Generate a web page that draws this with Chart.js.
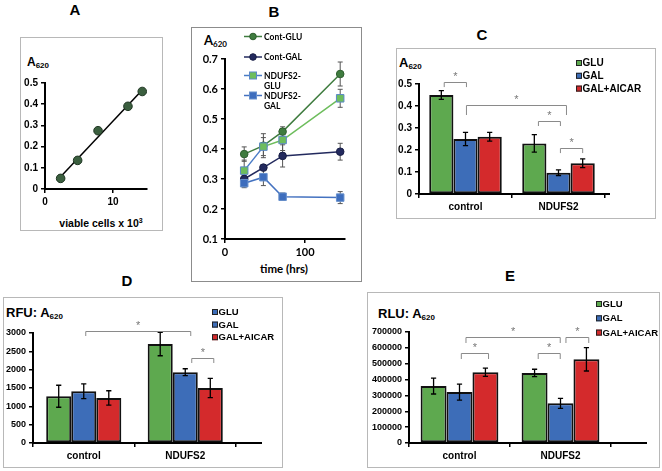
<!DOCTYPE html>
<html><head><meta charset="utf-8">
<script src="https://cdn.jsdelivr.net/npm/chart.js@4.4.1/dist/chart.umd.min.js"></script>
<style>
body{margin:0;background:#fff;}
#root{position:relative;width:662px;height:471px;overflow:hidden;font-family:"Liberation Sans",Arial,sans-serif;background:#fff;}
.box{position:absolute;border:1px solid #b8b8b8;box-sizing:border-box;}
canvas{position:absolute;}
.t{position:absolute;white-space:nowrap;font-weight:bold;color:#000;line-height:1;}
.ttl{font-size:15px;transform:translate(-50%,-50%);}
.lab{font-size:13px;transform:translateY(-50%);}
.lab sub{font-size:8px;vertical-align:-2px;}
.cal{font-family:Lato,"Liberation Sans",sans-serif;}
</style></head>
<body>
<div id="root">
  <div class="box" style="left:20px;top:37px;width:143px;height:194px;"></div>
  <div class="box" style="left:191px;top:27px;width:171px;height:255px;border-color:#8c8c8c"></div>
  <div class="box" style="left:396px;top:48px;width:260px;height:171px;"></div>
  <div class="box" style="left:3px;top:297px;width:280px;height:171px;"></div>
  <div class="box" style="left:367px;top:292px;width:293px;height:176px;"></div>

  <div class="t ttl" style="left:75px;top:9px;">A</div>
  <div class="t ttl" style="left:274px;top:11px;">B</div>
  <div class="t ttl" style="left:482px;top:34px;">C</div>
  <div class="t ttl" style="left:127px;top:280px;">D</div>
  <div class="t ttl" style="left:510px;top:275px;">E</div>

  <div class="t lab" style="left:27px;top:63px;font-size:12px;">A<sub>620</sub></div>
  <div class="t" style="left:101px;top:223px;font-size:10.5px;transform:translate(-50%,-50%);">viable cells x 10<sup style="font-size:7px;vertical-align:4px;line-height:0">3</sup></div>
  <div class="t lab cal" style="left:204px;top:41px;font-size:13px;">A<sub>620</sub></div>
  <div class="t cal" style="left:284px;top:269px;font-size:11.5px;transform:translate(-50%,-50%);">time (hrs)</div>
  <div class="t lab" style="left:399px;top:63px;">A<sub>620</sub></div>
  <div class="t lab" style="left:6px;top:313px;">RFU: A<sub>620</sub></div>
  <div class="t lab" style="left:378px;top:314px;">RLU: A<sub>620</sub></div>
</div>
<script>
// ---------- Panel A: standard curve ----------
const aCells = [2.3, 4.8, 7.8, 12.2, 14.3];
const aAbs = [0.05, 0.135, 0.275, 0.39, 0.46];
const aXTicks = [0, 10];

// ---------- Panel B: growth over time ----------
const bHours = [24, 48, 72, 144];
const bContGlu = [0.383, 0.411, 0.458, 0.65];
const bContGluErr = [0.024, 0.04, 0.016, 0.04];
const bContGal = [0.30, 0.338, 0.377, 0.391];
const bContGalErr = [0.012, 0.01, 0.037, 0.028];
const bNdGlu = [0.328, 0.408, 0.43, 0.569];
const bNdGluErr = [0.035, 0.03, 0.035, 0.03];
const bNdGal = [0.286, 0.306, 0.241, 0.238];
const bNdGalErr = [0.015, 0.028, 0.012, 0.02];
const bNames = [['Cont-GLU'], ['Cont-GAL'], ['NDUFS2-', 'GLU'], ['NDUFS2-', 'GAL']];
const bXTicks = [0, 100];

// ---------- Panels C, D, E: bar charts ----------
const groups = ['control', 'NDUFS2'];
const treatments = ['GLU', 'GAL', 'GAL+AICAR'];

const cGlu = [0.45, 0.23], cGal = [0.25, 0.097], cAicar = [0.26, 0.14];
const cGluErr = [0.02, 0.04], cGalErr = [0.03, 0.013], cAicarErr = [0.02, 0.02];

const dGlu = [1275, 2700], dGal = [1410, 1930], dAicar = [1230, 1500];
const dGluErr = [300, 320], dGalErr = [200, 95], dAicarErr = [195, 260];

const eGlu = [359000, 442000], eGal = [321000, 250000], eAicar = [446000, 528000];
const eGluErr = [50000, 23000], eGalErr = [50000, 32000], eAicarErr = [26000, 74000];

// significance brackets: [group, series position] endpoints, bar height and leg end in data units
const cBrackets = [
  {from: [0, 0.12], to: [0, 1.04], y: 0.509, leg: 0.486},
  {from: [0, 1.04], to: [1, 1.33], y: 0.405, leg: 0.359},
  {from: [1, 0.17], to: [1, 1.08], y: 0.332, leg: 0.309},
  {from: [1, 1.08], to: [1, 2.0], y: 0.209, leg: 0.186}
];
const dBrackets = [
  {from: [0, 1.08], to: [1, 1.22], y: 3054, leg: 2918},
  {from: [1, 1.26], to: [1, 2.14], y: 2318, leg: 2182}
];
const eBrackets = [
  {from: [0, 1.07], to: [0, 2.12], y: 565600, leg: 529700},
  {from: [0, 1.25], to: [1, 0.99], y: 666500, leg: 630600},
  {from: [1, 0.14], to: [1, 0.99], y: 565600, leg: 529700},
  {from: [1, 1.21], to: [1, 2.09], y: 666500, leg: 630600}
];

// ---------- styles ----------
const GREEN = '#5ea94f', BLUE = '#3d6db8', RED = '#d42a2c';
Chart.defaults.font.family = '"Liberation Sans", Arial, sans-serif';
Chart.defaults.font.weight = 'bold';
Chart.defaults.color = '#000';

const root = document.getElementById('root');
function mkCanvas(left, top, w, h) {
  const c = document.createElement('canvas');
  c.width = w; c.height = h;
  c.style.left = left + 'px'; c.style.top = top + 'px';
  c.style.width = w + 'px'; c.style.height = h + 'px';
  root.appendChild(c);
  return c;
}
const fmt = v => String(Number(v.toFixed(3)));
function axisStyle(size, family) {
  return {
    grid: {display: true, drawOnChartArea: false, drawTicks: true, tickLength: 4, color: '#000', lineWidth: 1.5},
    border: {display: true, color: '#000', width: 2},
    ticks: {font: {size: size, weight: 'bold', family: family}, padding: 3, color: '#000'}
  };
}
const baseOpts = {responsive: false, animation: false, devicePixelRatio: 1, events: [],
  plugins: {legend: {display: false}, tooltip: {enabled: false}}};

function errorPlugin(errs, st, before) {
  const draw = chart => {
    const ctx = chart.ctx, ys = chart.scales.y;
    chart.data.datasets.forEach((ds, i) => {
      const e = errs[i]; if (!e) return;
      chart.getDatasetMeta(i).data.forEach((el, j) => {
        const raw = ds.data[j]; const v = typeof raw === 'object' ? raw.y : raw;
        const x = el.x, y1 = ys.getPixelForValue(v + e[j]), y2 = ys.getPixelForValue(v - e[j]);
        ctx.save(); ctx.strokeStyle = st.color; ctx.lineWidth = st.width;
        ctx.beginPath();
        ctx.moveTo(x, y1); ctx.lineTo(x, y2);
        ctx.moveTo(x - st.cap, y1); ctx.lineTo(x + st.cap, y1);
        ctx.moveTo(x - st.cap, y2); ctx.lineTo(x + st.cap, y2);
        ctx.stroke(); ctx.restore();
      });
    });
  };
  return before ? {id: 'err', beforeDatasetsDraw: draw} : {id: 'err', afterDatasetsDraw: draw};
}

function barExtras(brackets, legend, axisExt) {
  return {id: 'barExtras', afterDraw(chart) {
    const ctx = chart.ctx, ys = chart.scales.y, m0 = chart.getDatasetMeta(0), ca = chart.chartArea;
    const xOf = p => { const el = m0.data[p[0]]; return el.x + p[1] * el.width; };
    // x-axis line extension
    ctx.save(); ctx.strokeStyle = '#000'; ctx.lineWidth = 2;
    ctx.beginPath(); ctx.moveTo(ca.right - 1, ca.bottom); ctx.lineTo(ca.right + axisExt, ca.bottom); ctx.stroke();
    ctx.restore();
    // brackets
    brackets.forEach(b => {
      const xa = xOf(b.from), xb = xOf(b.to), y = Math.round(ys.getPixelForValue(b.y)) + 0.5, yl = ys.getPixelForValue(b.leg);
      ctx.save(); ctx.strokeStyle = '#8a8a8a'; ctx.lineWidth = 1;
      ctx.beginPath(); ctx.moveTo(xa, yl); ctx.lineTo(xa, y); ctx.lineTo(xb, y); ctx.lineTo(xb, yl); ctx.stroke();
      ctx.fillStyle = '#777'; ctx.font = '11px "Liberation Sans", Arial';
      ctx.textAlign = 'center'; ctx.textBaseline = 'middle';
      ctx.fillText('*', (xa + xb) / 2, y - 6);
      ctx.restore();
    });
    // legend
    ctx.save();
    ctx.font = 'bold ' + legend.size + 'px "Liberation Sans", Arial'; ctx.textBaseline = 'middle'; ctx.textAlign = 'left';
    legend.colors.forEach((c, i) => {
      const y = legend.y + i * legend.step;
      ctx.fillStyle = c; ctx.fillRect(legend.x, y - 3, 6, 6);
      ctx.strokeStyle = '#222'; ctx.lineWidth = 1; ctx.strokeRect(legend.x + 0.5, y - 2.5, 5, 5);
      ctx.fillStyle = '#000'; ctx.fillText(treatments[i], legend.x + 6.5, y + 0.5);
    });
    ctx.restore();
  }};
}

function barPanel(left, top, w, h, vals, errs, cfg) {
  const colors = [GREEN, BLUE, RED];
  const ys = axisStyle(cfg.tickSize), xs = axisStyle(10);
  new Chart(mkCanvas(left, top, w, h), {
    type: 'bar',
    data: {labels: groups, datasets: vals.map((v, i) => ({
      label: treatments[i], data: v, backgroundColor: colors[i], borderColor: '#111', borderWidth: 2,
      categoryPercentage: cfg.catPct, barPercentage: 1, borderSkipped: false}))},
    options: Object.assign({}, baseOpts, {
      layout: {padding: {left: 0, top: cfg.T, right: cfg.R, bottom: 0}},
      scales: {
        x: Object.assign(xs, {afterFit: s => { s.height = cfg.B; }}),
        y: Object.assign(ys, {min: 0, max: cfg.max, ticks: Object.assign(ys.ticks, {stepSize: cfg.step, callback: fmt}),
          afterFit: s => { s.width = cfg.L; }})
      }
    }),
    plugins: [errorPlugin(errs, {color: '#000', width: 1.3, cap: 2.6}, false),
              barExtras(cfg.brackets, cfg.legend, cfg.ext)]
  });
}

// ---------- Panel A ----------
(function () {
  const n = aCells.length;
  const mx = aCells.reduce((a, b) => a + b, 0) / n, my = aAbs.reduce((a, b) => a + b, 0) / n;
  let sxy = 0, sxx = 0;
  for (let i = 0; i < n; i++) { sxy += (aCells[i] - mx) * (aAbs[i] - my); sxx += (aCells[i] - mx) ** 2; }
  const slope = sxy / sxx, icpt = my - slope * mx;
  const x0 = Math.min(...aCells), x1 = Math.max(...aCells);
  const fit = [{x: x0, y: icpt + slope * x0}, {x: x1, y: icpt + slope * x1}];
  const xs = axisStyle(10), ys = axisStyle(10);
  new Chart(mkCanvas(21, 38, 141, 192), {
    type: 'scatter',
    data: {datasets: [
      {type: 'line', data: fit, borderColor: '#000', borderWidth: 1.5, pointRadius: 0, order: 2},
      {data: aCells.map((x, i) => ({x: x, y: aAbs[i]})), pointRadius: 4.3, backgroundColor: '#3b5f3f', borderColor: '#1f3623', borderWidth: 1, order: 1}
    ]},
    options: Object.assign({}, baseOpts, {
      layout: {padding: {left: 0, top: 45, right: 15, bottom: 0}},
      scales: {
        x: Object.assign(xs, {type: 'linear', min: 0, max: 15,
          afterBuildTicks: s => { s.ticks = aXTicks.map(v => ({value: v})); },
          afterFit: s => { s.height = 41; }}),
        y: Object.assign(ys, {min: 0, max: 0.5, ticks: Object.assign(ys.ticks, {stepSize: 0.1, callback: fmt}),
          afterFit: s => { s.width = 24; }})
      }
    })
  });
})();

// ---------- Panel B ----------
(function () {
  const series = [bContGlu, bContGal, bNdGlu, bNdGal];
  const errs = [bContGluErr, bContGalErr, bNdGluErr, bNdGalErr];
  const lineCol = ['#3f7c3f', '#232a5e', '#6dbd5c', '#4472c0'];
  const ptFill = ['#3f7c3f', '#232a5e', '#6dbd5c', '#3d6dbd'];
  const ptBorder = ['#2e5e2e', '#171d45', '#5b88c8', '#6790cc'];
  const ptStyle = ['circle', 'circle', 'rect', 'rect'];
  const ptRad = [3.8, 3.8, 5.3, 5.3];
  const legendLine = ['#3f7c3f', '#232a5e', '#4a7cc6', '#4472c0'];
  const xs = axisStyle(11, 'Lato'), ys = axisStyle(11, 'Lato');
  const legendPlugin = {id: 'bLegend', afterDraw(chart) {
    const ctx = chart.ctx;
    const rows = [8.5, 29, 47.5, 67.5];
    ctx.save();
    ctx.font = 'bold 8.5px Lato, "Liberation Sans"'; ctx.textBaseline = 'middle';
    bNames.forEach((nm, i) => {
      const y = rows[i];
      ctx.strokeStyle = legendLine[i]; ctx.lineWidth = 1.5;
      ctx.beginPath(); ctx.moveTo(52, y); ctx.lineTo(70, y); ctx.stroke();
      ctx.fillStyle = ptFill[i]; ctx.strokeStyle = ptBorder[i]; ctx.lineWidth = 1;
      if (ptStyle[i] === 'circle') { ctx.beginPath(); ctx.arc(61, y, 3.3, 0, Math.PI * 2); ctx.fill(); ctx.stroke(); }
      else { ctx.fillRect(57.5, y - 3.5, 7, 7); ctx.strokeRect(57.5, y - 3.5, 7, 7); }
      ctx.fillStyle = '#000';
      nm.forEach((line, k) => ctx.fillText(line, 72, y + 0.5 + k * 9.8));
    });
    ctx.restore();
  }};
  new Chart(mkCanvas(192, 28, 169, 253), {
    type: 'line',
    data: {datasets: series.map((s, i) => ({
      label: bNames[i].join(''), data: bHours.map((h, j) => ({x: h, y: s[j]})),
      borderColor: lineCol[i], borderWidth: 1.5, backgroundColor: ptFill[i],
      pointBackgroundColor: ptFill[i], pointBorderColor: ptBorder[i], pointBorderWidth: 1,
      pointStyle: ptStyle[i], pointRadius: ptRad[i], order: 4 - i,
      segment: i === 2 ? {borderColor: c => c.p1DataIndex <= 1 ? '#4a7cc6' : '#6dbd5c'} : undefined
    }))},
    options: Object.assign({}, baseOpts, {
      layout: {padding: {left: 0, top: 31, right: 16, bottom: 0}},
      scales: {
        x: Object.assign(xs, {type: 'linear', min: 0, max: 150,
          afterBuildTicks: s => { s.ticks = bXTicks.map(v => ({value: v})); },
          afterFit: s => { s.height = 42; }}),
        y: Object.assign(ys, {min: 0.1, max: 0.7, ticks: Object.assign(ys.ticks, {stepSize: 0.1, callback: fmt}),
          afterFit: s => { s.width = 33; }})
      }
    }),
    plugins: [errorPlugin(errs, {color: '#555', width: 1, cap: 2.5}, true), legendPlugin]
  });
})();

// ---------- Panel C ----------
barPanel(397, 49, 258, 169, [cGlu, cGal, cAicar], [cGluErr, cGalErr, cAicarErr],
  {L: 22, T: 35, R: 50, B: 24, max: 0.5, step: 0.1, catPct: 0.78, tickSize: 10, ext: 5,
   brackets: cBrackets, legend: {x: 179, y: 14, step: 12.8, size: 10, colors: [GREEN, BLUE, RED]}});

// ---------- Panel D ----------
barPanel(4, 298, 278, 169, [dGlu, dGal, dAicar], [dGluErr, dGalErr, dAicarErr],
  {L: 29, T: 35, R: 46, B: 24, max: 3000, step: 500, catPct: 0.74, tickSize: 9, ext: 26,
   brackets: dBrackets, legend: {x: 208, y: 14, step: 12.6, size: 9.5, colors: [BLUE, BLUE, RED]}});

// ---------- Panel E ----------
barPanel(368, 293, 291, 174, [eGlu, eGal, eAicar], [eGluErr, eGalErr, eAicarErr],
  {L: 41, T: 39, R: 48, B: 24, max: 700000, step: 100000, catPct: 0.77, tickSize: 9, ext: 36,
   brackets: eBrackets, legend: {x: 228, y: 11, step: 14.3, size: 9.5, colors: [GREEN, BLUE, RED]}});
</script>
</body></html>
